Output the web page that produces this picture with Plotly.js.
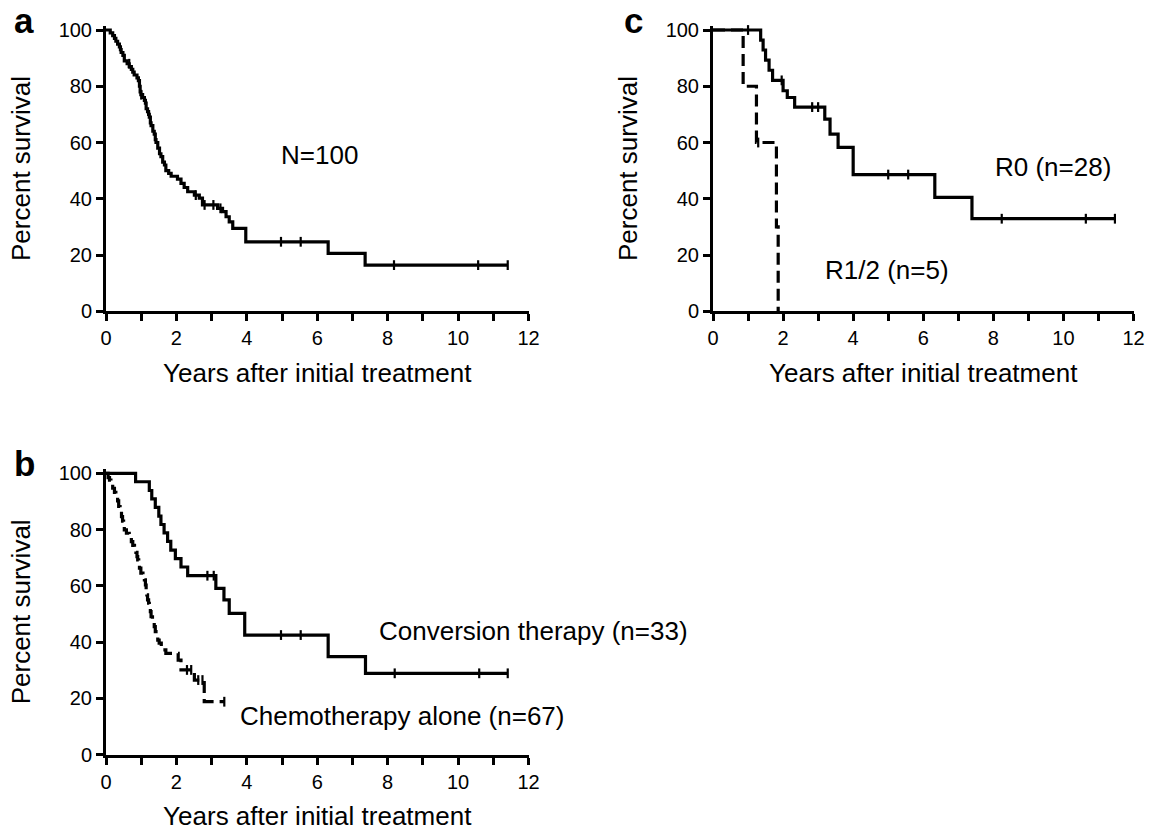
<!DOCTYPE html>
<html>
<head>
<meta charset="utf-8">
<script src="https://cdn.plot.ly/plotly-3.0.1.min.js"></script>
<style>html,body{margin:0;padding:0;background:#fff;}#chart{width:1149px;height:832px;}</style>
</head>
<body>
<div id="chart"></div>
<script>
// ---------- Panel a: all patients (N=100) ----------
var aTime = [0, 0.12, 0.19, 0.24, 0.28, 0.33, 0.38, 0.41, 0.43, 0.48, 0.52, 0.6, 0.66, 0.72, 0.76, 0.8, 0.88, 0.92, 0.95, 0.97, 0.99, 1.04, 1.09, 1.12, 1.14, 1.18, 1.21, 1.23, 1.26, 1.28, 1.33, 1.37, 1.4, 1.42, 1.47, 1.52, 1.56, 1.61, 1.66, 1.7, 1.78, 1.85, 2.03, 2.13, 2.22, 2.32, 2.51, 2.65, 2.74, 3.17, 3.31, 3.41, 3.5, 3.6, 3.97, 6.31, 7.36, 11.41];
var aSurv = [100, 99, 98, 97, 96, 95, 94, 93, 92, 91, 89, 88, 87, 86, 85, 84, 83, 82, 80, 78, 77, 76, 75, 74, 72, 71, 70, 69, 67, 66, 64, 63, 61, 60, 58, 56, 55, 53, 52, 50, 49, 48, 47, 45.5, 44, 42.5, 41.3, 40.2, 37.8, 36.6, 35.4, 33.6, 31.8, 29.5, 24.7, 20.6, 16.4, 16.4];
var aCensTime = [0.66, 1.0, 2.55, 2.8, 3.05, 3.25, 4.97, 5.53, 8.18, 10.57, 11.41];
var aCensSurv = [88, 77, 41.3, 37.8, 37.8, 36.6, 24.7, 24.7, 16.4, 16.4, 16.4];

// ---------- Panel b: conversion therapy (n=33) vs chemotherapy alone (n=67) ----------
var bConvTime = [0, 0.84, 1.23, 1.3, 1.4, 1.5, 1.56, 1.65, 1.75, 1.84, 1.97, 2.13, 2.32, 3.12, 3.35, 3.5, 3.94, 6.31, 7.37, 11.41];
var bConvSurv = [100, 97.0, 93.9, 90.9, 87.9, 84.8, 81.8, 78.8, 75.8, 72.7, 69.7, 66.7, 63.6, 59.1, 55.0, 50.2, 42.5, 34.8, 28.9, 28.9];
var bConvCensTime = [2.88, 3.06, 4.97, 5.53, 8.2, 10.6, 11.41];
var bConvCensSurv = [63.6, 63.6, 42.5, 42.5, 28.9, 28.9, 28.9];

var bChemoTime = [0, 0.06, 0.1, 0.14, 0.19, 0.24, 0.28, 0.33, 0.36, 0.4, 0.44, 0.47, 0.5, 0.52, 0.58, 0.66, 0.72, 0.76, 0.81, 0.85, 0.88, 0.9, 0.93, 0.95, 0.99, 1.05, 1.09, 1.12, 1.14, 1.16, 1.18, 1.21, 1.23, 1.26, 1.28, 1.32, 1.37, 1.4, 1.42, 1.47, 1.51, 1.57, 1.61, 1.7, 2.05, 2.13, 2.51, 2.79, 3.36];
var bChemoSurv = [100, 98.5, 97.6, 96, 94.7, 93.2, 91.7, 90.2, 88.2, 86.5, 84.6, 83, 81.1, 79.9, 78.7, 77.2, 75.7, 74.4, 73.4, 71.9, 70.4, 69.2, 68, 66.3, 64.5, 63.3, 62.1, 60.3, 58.5, 56.8, 55, 53.8, 52.6, 50.8, 49, 47.2, 45.5, 43.7, 41.9, 40.7, 39.6, 38.4, 37.2, 36, 33.6, 30.1, 26.5, 18.8, 18.8];
var bChemoCensTime = [2.3, 2.42, 2.62, 2.74, 3.36];
var bChemoCensSurv = [30.1, 30.1, 26.5, 26.5, 18.8];

// ---------- Panel c: R0 (n=28) vs R1/2 (n=5) ----------
var cR0Time = [0, 1.36, 1.43, 1.5, 1.6, 1.7, 2.0, 2.12, 2.33, 3.19, 3.34, 3.57, 4.0, 6.33, 7.39, 11.47];
var cR0Surv = [100, 96.4, 92.9, 89.3, 85.7, 82.1, 78.4, 76.0, 72.6, 68.3, 63.0, 58.3, 48.6, 40.5, 32.9, 32.9];
var cR0CensTime = [1.0, 1.96, 2.83, 3.0, 5.0, 5.57, 8.24, 10.64, 11.47];
var cR0CensSurv = [100, 82.1, 72.6, 72.6, 48.6, 48.6, 32.9, 32.9, 32.9];

var cR12Time = [0, 0.86, 1.24, 1.81, 1.86];
var cR12Surv = [100, 80, 60, 30, 0];
var cR12CensTime = [1.29];
var cR12CensSurv = [60];

// ---------- Text ----------
var xTitle = 'Years after initial treatment';
var yTitle = 'Percent survival';
var panelLabels = ['a', 'b', 'c'];
var curveLabels = ['N=100', 'Conversion therapy (n=33)', 'Chemotherapy alone (n=67)', 'R0 (n=28)', 'R1/2 (n=5)'];

// ---------- Build ----------
var FONT = 'Liberation Sans, Arial, Helvetica, sans-serif';
var BLACK = '#000000';
var DASH = '12px,6px';

function curve(t, s, xa, ya, dash) {
  return {x: t, y: s, xaxis: xa, yaxis: ya, type: 'scatter', mode: 'lines',
    line: {shape: 'hv', color: BLACK, width: 3.2, dash: dash || 'solid'},
    hoverinfo: 'x+y', showlegend: false};
}
function cens(t, s, xa, ya) {
  return {x: t, y: s, xaxis: xa, yaxis: ya, type: 'scatter', mode: 'markers',
    marker: {symbol: 'line-ns', size: 7, line: {color: BLACK, width: 2.2}},
    hoverinfo: 'x+y', showlegend: false, cliponaxis: false};
}

var data = [
  curve(aTime, aSurv, 'x', 'y'), cens(aCensTime, aCensSurv, 'x', 'y'),
  curve(bConvTime, bConvSurv, 'x3', 'y3'), cens(bConvCensTime, bConvCensSurv, 'x3', 'y3'),
  curve(bChemoTime, bChemoSurv, 'x3', 'y3', DASH), cens(bChemoCensTime, bChemoCensSurv, 'x3', 'y3'),
  curve(cR0Time, cR0Surv, 'x2', 'y2'), cens(cR0CensTime, cR0CensSurv, 'x2', 'y2'),
  curve(cR12Time, cR12Surv, 'x2', 'y2', DASH), cens(cR12CensTime, cR12CensSurv, 'x2', 'y2')
];

function xAxis(domain, anchor) {
  return {domain: domain, anchor: anchor, range: [0, 12], tick0: 0, dtick: 2,
    ticks: 'outside', ticklen: 7, tickwidth: 3, tickcolor: BLACK,
    minor: {dtick: 1, tick0: 0, ticks: 'outside', ticklen: 7, tickwidth: 3, tickcolor: BLACK, showgrid: false},
    showline: true, linewidth: 3, linecolor: BLACK, showgrid: false, zeroline: false,
    tickfont: {family: FONT, size: 20, color: BLACK}, automargin: false,
    title: {text: xTitle, font: {family: FONT, size: 26, color: BLACK}, standoff: 16}};
}
function yAxis(domain, anchor) {
  return {domain: domain, anchor: anchor, range: [0, 101.5], tick0: 0, dtick: 20,
    ticks: 'outside', ticklen: 7, tickwidth: 3, tickcolor: BLACK,
    showline: true, linewidth: 3, linecolor: BLACK, showgrid: false, zeroline: false,
    tickfont: {family: FONT, size: 20, color: BLACK}, automargin: false,
    title: {text: yTitle, font: {family: FONT, size: 26, color: BLACK}, standoff: 21}};
}

var domA_x = [106 / 1149, 528.5 / 1149];
var domC_x = [713 / 1149, 1133.5 / 1149];
var domTop_y = [1 - 311.25 / 832, 1 - 25.8 / 832];
var domBot_y = [1 - 754.6 / 832, 1 - 469.1 / 832];

function ann(text, xref, yref, x, y, xanchor, size, bold) {
  return {text: bold ? '<b>' + text + '</b>' : text, xref: xref, yref: yref, x: x, y: y,
    xanchor: xanchor, yanchor: 'middle', showarrow: false,
    font: {family: FONT, size: size, color: BLACK}};
}

var layout = {
  width: 1149, height: 832,
  margin: {l: 0, r: 0, t: 0, b: 0, pad: 0},
  paper_bgcolor: '#ffffff', plot_bgcolor: '#ffffff',
  showlegend: false,
  xaxis: xAxis(domA_x, 'y'), yaxis: yAxis(domTop_y, 'x'),
  xaxis2: xAxis(domC_x, 'y2'), yaxis2: yAxis(domTop_y, 'x2'),
  xaxis3: xAxis(domA_x, 'y3'), yaxis3: yAxis(domBot_y, 'x3'),
  annotations: [
    ann(panelLabels[0], 'paper', 'paper', 24 / 1149, 1 - 20 / 832, 'center', 35, true),
    ann(panelLabels[1], 'paper', 'paper', 24 / 1149, 1 - 463 / 832, 'center', 35, true),
    ann(panelLabels[2], 'paper', 'paper', 633 / 1149, 1 - 20 / 832, 'center', 35, true),
    ann(curveLabels[0], 'x', 'y', 4.9, 55.5, 'left', 26, false),
    ann(curveLabels[1], 'x3', 'y3', 7.69, 43.8, 'left', 26, false),
    ann(curveLabels[2], 'x3', 'y3', 3.76, 13.8, 'left', 26, false),
    ann(curveLabels[3], 'x2', 'y2', 8.0, 51.3, 'left', 26, false),
    ann(curveLabels[4], 'x2', 'y2', 3.14, 14.6, 'left', 26, false)
  ]
};

Plotly.newPlot('chart', data, layout, {displayModeBar: false, staticPlot: true});
</script>
</body>
</html>
